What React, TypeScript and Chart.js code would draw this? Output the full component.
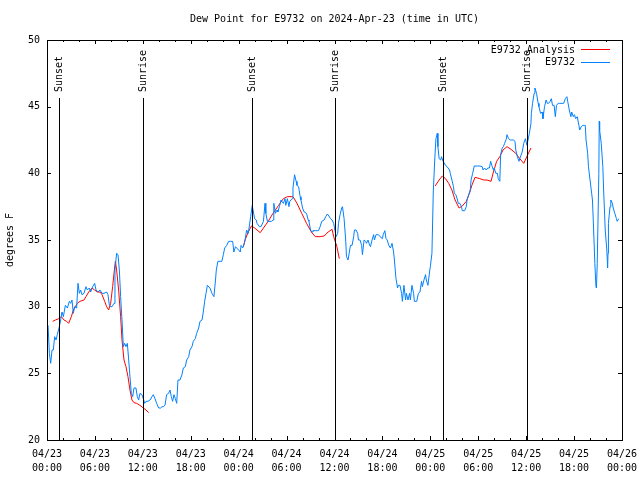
import React, { useEffect, useRef } from "react";
import { Chart, registerables } from "chart.js";

Chart.register(...registerables);

const titleText = "Dew Point for E9732 on 2024-Apr-23 (time in UTC)";
const yAxisTitle = "degrees F";
const seriesNames = ["E9732 Analysis", "E9732"];

const xTickHours = [0, 6, 12, 18, 24, 30, 36, 42, 48, 54, 60, 66, 72];
const xTickDates = ["04/23", "04/23", "04/23", "04/23", "04/24", "04/24", "04/24", "04/24", "04/25", "04/25", "04/25", "04/25", "04/26"];
const xTickTimes = ["00:00", "06:00", "12:00", "18:00", "00:00", "06:00", "12:00", "18:00", "00:00", "06:00", "12:00", "18:00", "00:00"];

const eventHours = [1.55, 12.06, 25.63, 36.08, 49.63, 60.15];
const eventLabels = ["Sunset", "Sunrise", "Sunset", "Sunrise", "Sunset", "Sunrise"];

// Observations (hours since 04/23 00:00 UTC)
const obsHours = [
  0.13, 0.3, 0.46, 0.63, 0.79, 0.96, 1.13, 1.29, 1.54, 1.71, 1.88, 2.05, 2.3, 2.55, 2.8, 2.96, 3.13, 3.3, 3.46, 3.71,
  3.88, 4.05, 4.21, 4.38, 4.63, 4.88, 5.05, 5.3, 5.47, 5.72, 5.97, 6.14, 6.39, 6.64, 6.89, 7.14, 7.47, 7.64, 7.81, 7.97,
  8.14, 8.39, 8.51, 8.72, 8.89, 9.06, 9.22, 9.39, 9.56, 9.72, 9.89, 10.06, 10.23, 10.39, 10.56, 10.73, 10.89, 11.14, 11.31, 11.48,
  11.64, 11.89, 12.06, 12.23, 12.4, 12.65, 12.9, 13.15, 13.31, 13.52, 13.73, 13.98, 14.23, 14.4, 14.57, 14.77, 14.98, 15.23, 15.4, 15.57,
  15.73, 15.9, 16.07, 16.24, 16.4, 16.65, 16.9, 17.07, 17.32, 17.49, 17.74, 17.9, 18.15, 18.32, 18.57, 18.74, 18.99, 19.16, 19.41, 19.57,
  19.74, 19.91, 20.08, 20.4, 20.66, 20.9, 21.1, 21.2, 21.4, 21.7, 21.9, 22.08, 22.25, 22.5, 22.75, 23.0, 23.25, 23.4, 23.6, 23.75,
  24.0, 24.2, 24.3, 24.5, 24.7, 24.8, 25.0, 25.2, 25.3, 25.5, 25.7, 25.8, 26.0, 26.2, 26.3, 26.6, 26.8, 27.1, 27.3, 27.4,
  27.6, 27.8, 28.1, 28.3, 28.4, 28.6, 28.8, 28.9, 29.1, 29.3, 29.4, 29.6, 29.8, 29.9, 30.1, 30.3, 30.4, 30.7, 30.8, 31.0,
  31.2, 31.3, 31.5, 31.7, 31.8, 32.0, 32.2, 32.3, 32.5, 32.7, 32.8, 33.0, 33.2, 33.3, 33.6, 33.9, 34.0, 34.2, 34.4, 34.7,
  34.9, 35.1, 35.3, 35.5, 35.7, 35.9, 36.0, 36.2, 36.4, 36.5, 36.7, 36.9, 37.0, 37.2, 37.4, 37.5, 37.7, 37.9, 38.0, 38.2,
  38.4, 38.5, 38.7, 38.9, 39.0, 39.2, 39.4, 39.5, 39.7, 39.9, 40.0, 40.2, 40.4, 40.5, 40.7, 40.9, 41.0, 41.2, 41.4, 41.5,
  41.7, 42.0, 42.1, 42.3, 42.45, 42.6, 42.8, 43.0, 43.2, 43.4, 43.5, 43.7, 43.9, 44.0, 44.2, 44.4, 44.5, 44.7, 44.9, 45.0,
  45.2, 45.4, 45.5, 45.7, 45.9, 46.0, 46.3, 46.5, 46.7, 46.9, 47.0, 47.2, 47.4, 47.5, 47.7, 47.9, 48.0, 48.2, 48.37, 48.55,
  48.7, 48.87, 48.95, 49.1, 49.3, 49.4, 49.6, 49.9, 50.1, 50.4, 50.5, 50.7, 50.9, 51.0, 51.2, 51.4, 51.5, 51.7, 51.9, 52.0,
  52.3, 52.5, 52.6, 52.8, 53.0, 53.1, 53.3, 53.5, 53.9, 54.2, 54.5, 54.6, 54.8, 55.0, 55.2, 55.4, 55.55, 55.7, 55.9, 56.0,
  56.2, 56.4, 56.5, 56.7, 56.8, 57.0, 57.15, 57.3, 57.5, 57.6, 57.8, 58.0, 58.2, 58.4, 58.6, 58.7, 58.9, 59.1, 59.2, 59.5,
  59.7, 59.9, 60.1, 60.2, 60.4, 60.6, 60.65, 60.8, 61.0, 61.1, 61.3, 61.5, 61.6, 61.8, 62.0, 62.1, 62.3, 62.5, 62.65, 62.8,
  63.0, 63.15, 63.3, 63.5, 63.65, 63.8, 64.0, 64.2, 64.5, 64.7, 64.9, 65.1, 65.2, 65.4, 65.6, 65.7, 65.9, 66.05, 66.2, 66.4,
  66.6, 66.7, 66.9, 67.1, 67.3, 67.4, 67.5, 67.7, 67.8, 68.0, 68.2, 68.3, 68.4, 68.6, 68.74, 68.8, 68.9, 69.1, 69.15, 69.2,
  69.4, 69.6, 69.7, 69.9, 70.1, 70.2, 70.25, 70.3, 70.5, 70.6, 70.8, 70.9, 71.1, 71.3, 71.4, 71.6,
];
const obsValues = [
  28.6, 26.5, 25.75, 26.75, 26.75, 27.75, 27.5, 27.9, 28.5, 29.0, 29.6, 29.25, 30.1, 29.9, 30.4, 30.25, 30.5, 29.5, 30.0, 29.9,
  31.75, 31.0, 31.25, 30.9, 31.0, 31.5, 31.25, 31.4, 31.1, 31.5, 31.75, 31.25, 31.1, 31.25, 31.0, 31.0, 31.1, 30.9, 30.1, 30.0,
  30.0, 30.25, 32.75, 34.0, 33.9, 32.75, 30.75, 29.0, 27.0, 27.25, 27.0, 27.25, 26.0, 24.75, 23.5, 23.25, 23.9, 23.9, 23.25, 23.0,
  23.5, 23.4, 23.1, 22.75, 22.9, 22.9, 23.0, 23.25, 23.4, 23.1, 22.75, 22.4, 22.4, 22.5, 22.5, 22.6, 23.4, 23.5, 23.75, 23.25,
  22.9, 23.4, 23.1, 22.75, 24.5, 24.5, 24.9, 25.4, 25.5, 26.0, 26.25, 26.75, 27.0, 27.4, 27.6, 28.0, 28.4, 28.9, 29.0, 29.6,
  30.4, 31.0, 31.6, 31.4, 31.0, 30.75, 32.0, 32.75, 33.4, 33.4, 33.4, 33.9, 34.4, 34.6, 34.9, 34.9, 34.9, 34.1, 34.5, 34.4,
  34.25, 34.1, 34.6, 34.4, 34.75, 35.0, 35.75, 35.5, 35.9, 36.75, 37.6, 37.25, 36.6, 36.5, 36.25, 36.0, 36.0, 36.4, 37.75, 37.0,
  36.4, 36.4, 36.4, 36.5, 37.75, 37.0, 37.25, 37.1, 37.5, 38.0, 37.9, 37.75, 38.1, 37.6, 38.1, 37.5, 37.9, 38.1, 38.9, 39.9,
  39.4, 39.1, 39.0, 38.25, 38.0, 37.4, 37.1, 37.1, 37.0, 36.5, 36.4, 35.75, 35.6, 35.7, 35.7, 35.7, 35.7, 36.0, 36.4, 36.5,
  36.75, 36.95, 36.8, 36.6, 36.5, 36.25, 35.9, 35.25, 35.5, 36.25, 36.9, 37.4, 37.5, 36.6, 35.0, 33.75, 33.5, 34.25, 34.6, 34.6,
  35.25, 35.75, 35.75, 35.5, 35.0, 35.0, 34.6, 33.9, 35.0, 34.9, 34.75, 35.0, 34.6, 34.5, 35.0, 35.4, 35.0, 35.4, 35.4, 35.4,
  35.25, 35.1, 35.4, 35.7, 35.1, 35.0, 34.6, 34.4, 34.75, 34.1, 33.5, 32.1, 31.4, 31.6, 31.6, 31.0, 30.4, 31.6, 30.5, 31.0,
  30.5, 31.0, 30.5, 31.6, 31.0, 30.4, 30.4, 31.0, 31.1, 31.9, 31.5, 32.0, 32.4, 32.0, 31.6, 32.6, 33.0, 34.0, 38.6, 41.0,
  42.6, 43.0, 42.0, 41.1, 41.0, 41.25, 40.9, 40.6, 40.5, 40.25, 40.0, 39.5, 39.0, 38.5, 38.4, 38.0, 37.75, 37.75, 37.5, 37.2,
  37.2, 37.5, 38.0, 38.4, 38.75, 39.5, 40.0, 40.55, 40.55, 40.55, 40.5, 40.25, 40.4, 40.25, 40.4, 40.4, 40.9, 40.6, 40.25, 40.4,
  40.0, 40.0, 39.6, 39.4, 41.4, 41.9, 42.0, 42.25, 42.55, 42.9, 42.6, 42.5, 42.5, 42.5, 42.4, 41.75, 41.25, 40.9, 41.1, 41.6,
  42.25, 42.6, 42.1, 42.4, 43.0, 43.75, 44.5, 45.25, 46.0, 46.4, 46.0, 45.25, 45.0, 44.5, 44.6, 44.1, 45.0, 45.5, 45.25, 45.25,
  45.4, 45.6, 45.1, 45.1, 44.25, 45.1, 45.25, 45.25, 45.25, 45.25, 45.6, 45.75, 45.4, 44.75, 44.25, 44.6, 44.25, 44.4, 44.1, 44.25,
  43.6, 43.25, 43.5, 43.6, 43.6, 43.6, 42.5, 41.5, 40.5, 39.5, 38.5, 38.0, 36.5, 33.25, 31.5, 31.4, 33.25, 40.0, 43.9, 43.25,
  42.25, 40.5, 38.75, 35.75, 34.25, 32.9, 34.0, 36.25, 37.5, 38.0, 37.75, 37.4, 37.0, 36.6, 36.4, 36.6,
];

// Analysis (null = no analysis for that period)
const analysisHours = [
  0.71, 1.05, 1.46, 1.8, 2.13, 2.46, 2.71, 3.05, 3.3, 3.55, 3.8, 4.13, 4.63, 4.88, 5.22, 5.63, 5.97, 6.3, 6.64, 6.89,
  7.22, 7.47, 7.72, 7.97, 8.22, 8.39, 8.56, 8.72, 8.97, 9.22, 9.39, 9.64, 9.89, 10.14, 10.39, 10.64, 10.89, 11.23, 11.64, 12.06,
  12.4, 12.73, 18.0,
  24.6, 24.8, 25.2, 25.6, 26.0, 26.7, 27.1, 27.7, 28.3, 29.0, 29.6, 30.1, 30.8, 31.3, 31.9, 32.5, 33.1, 33.6, 34.2, 34.7,
  35.2, 35.7, 35.9, 36.3, 36.6, 42.0,
  48.6, 49.1, 49.5, 49.9, 50.3, 50.7, 51.1, 51.6, 52.0, 52.5, 52.9, 53.2, 53.6, 54.2, 54.7, 55.1, 55.6, 55.9, 56.3, 56.7,
  57.1, 57.6, 58.1, 58.7, 59.2, 59.7, 60.2, 60.6,
];
const analysisValues = [
  28.9, 29.0, 29.1, 29.25, 29.0, 28.9, 28.75, 29.25, 29.75, 30.0, 30.25, 30.4, 30.5, 30.75, 31.1, 31.4, 31.25, 31.1, 31.1, 30.9,
  30.4, 30.0, 29.75, 30.25, 31.5, 32.5, 33.4, 32.75, 31.25, 29.25, 27.5, 26.0, 25.5, 24.75, 23.75, 23.0, 22.8, 22.75, 22.6, 22.4,
  22.25, 22.05, null,
  34.5, 35.0, 35.6, 36.05, 35.9, 35.55, 35.9, 36.4, 37.0, 37.6, 38.1, 38.25, 38.25, 37.75, 37.0, 36.25, 35.6, 35.25, 35.25, 35.3,
  35.6, 35.8, 35.25, 34.5, 33.6, null,
  39.05, 39.5, 39.8, 39.6, 39.25, 38.75, 38.0, 37.4, 37.55, 37.9, 38.5, 39.1, 39.7, 39.6, 39.5, 39.5, 39.4, 40.1, 40.9, 41.25,
  41.75, 42.0, 41.8, 41.5, 41.1, 40.75, 41.4, 41.9,
];

const FONT = "'DejaVu Sans Mono', 'Liberation Mono', monospace";
const RED = "#ff0000";
const BLUE = "rgb(0,128,255)";

const gnuplotDecor = {
  id: "gnuplotDecor",
  afterDatasetsDraw(chart: any) {
    const { ctx, chartArea } = chart;
    const xs = chart.scales.x;
    const ys = chart.scales.y;
    const L = Math.round(chartArea.left), R = Math.round(chartArea.right);
    const T = Math.round(chartArea.top), B = Math.round(chartArea.bottom);
    ctx.save();
    ctx.strokeStyle = "#000";
    ctx.lineWidth = 1;
    // frame
    ctx.strokeRect(L + 0.5, T + 0.5, R - L, B - T);
    // x ticks every 2 hours, major every 6
    ctx.beginPath();
    for (let h = 0; h <= 72; h += 2) {
      const px = Math.round(xs.getPixelForValue(h)) + 0.5;
      const len = h % 6 === 0 ? 4 : 2;
      ctx.moveTo(px, B);
      ctx.lineTo(px, B - len);
      ctx.moveTo(px, T);
      ctx.lineTo(px, T + len);
    }
    // y ticks
    for (let v = 20; v <= 50; v += 5) {
      const py = Math.round(ys.getPixelForValue(v)) + 0.5;
      ctx.moveTo(L, py);
      ctx.lineTo(L + 4, py);
      ctx.moveTo(R, py);
      ctx.lineTo(R - 4, py);
    }
    ctx.stroke();
    // title
    ctx.fillStyle = "#000";
    ctx.font = "10px " + FONT;
    ctx.textAlign = "center";
    ctx.textBaseline = "middle";
    ctx.fillText(titleText, (L + R) / 2, 19);
    // sunrise / sunset markers
    eventHours.forEach((h, i) => {
      const px = Math.round(xs.getPixelForValue(h)) + 0.5;
      ctx.beginPath();
      ctx.moveTo(px, 98);
      ctx.lineTo(px, B);
      ctx.stroke();
      ctx.save();
      ctx.translate(px, 92);
      ctx.rotate(-Math.PI / 2);
      ctx.textAlign = "left";
      ctx.textBaseline = "middle";
      ctx.fillText(eventLabels[i], 0, 0);
      ctx.restore();
    });
    // legend (inside, top right)
    const colors = [RED, BLUE];
    seriesNames.forEach((name, i) => {
      const y = 50 + i * 12.5;
      ctx.fillStyle = "#000";
      ctx.textAlign = "right";
      ctx.textBaseline = "middle";
      ctx.fillText(name, 575, y);
      ctx.strokeStyle = colors[i];
      ctx.beginPath();
      ctx.moveTo(581, Math.round(y) - 0.5);
      ctx.lineTo(610, Math.round(y) - 0.5);
      ctx.stroke();
    });
    ctx.restore();
  },
};

export default function App() {
  const canvasRef = useRef<HTMLCanvasElement | null>(null);

  useEffect(() => {
    const canvas = canvasRef.current;
    if (!canvas) return;
    const analysisData = analysisHours.map((h, i) => ({ x: h, y: analysisValues[i] }));
    const obsData = obsHours.map((h, i) => ({ x: h, y: obsValues[i] }));
    const chart = new Chart(canvas, {
      type: "line",
      data: {
        datasets: [
          {
            label: seriesNames[1],
            data: obsData,
            borderColor: BLUE,
            borderWidth: 1,
            pointRadius: 0,
            tension: 0,
            fill: false,
          },
          {
            label: seriesNames[0],
            data: analysisData as any,
            borderColor: RED,
            borderWidth: 1,
            pointRadius: 0,
            tension: 0,
            fill: false,
            spanGaps: false,
          },
        ],
      },
      options: {
        responsive: false,
        animation: false,
        devicePixelRatio: 1,
        layout: { padding: { left: 0, right: 18, top: 40, bottom: 0 } },
        plugins: {
          legend: { display: false },
          tooltip: { enabled: false },
          title: { display: false },
        },
        scales: {
          x: {
            type: "linear",
            min: 0,
            max: 72,
            grid: { display: false, drawTicks: false },
            border: { display: false },
            afterBuildTicks: (scale: any) => {
              scale.ticks = xTickHours.map((v) => ({ value: v }));
            },
            afterFit: (scale: any) => {
              scale.height = 40;
              scale.paddingLeft = 0;
              scale.paddingRight = 0;
            },
            ticks: {
              color: "#000",
              padding: 7,
              maxRotation: 0,
              autoSkip: false,
              font: { family: FONT, size: 10, lineHeight: 1.4 },
              callback: (value: any) => {
                const i = xTickHours.indexOf(Number(value));
                return i >= 0 ? [xTickDates[i], xTickTimes[i]] : "";
              },
            },
          },
          y: {
            min: 20,
            max: 50,
            grid: { display: false, drawTicks: false },
            border: { display: false },
            afterFit: (scale: any) => {
              scale.width = 47;
              scale.paddingTop = 0;
              scale.paddingBottom = 0;
            },
            ticks: {
              stepSize: 5,
              color: "#000",
              padding: 7,
              font: { family: FONT, size: 10 },
            },
            title: {
              display: true,
              text: yAxisTitle,
              color: "#000",
              font: { family: FONT, size: 10 },
              padding: { top: 4, bottom: 4 },
            },
          },
        },
      },
      plugins: [gnuplotDecor],
    });
    return () => chart.destroy();
  }, []);

  return (
    <div style={{ position: "fixed", left: 0, top: 0, width: 640, height: 480, background: "#fff" }}>
      <canvas ref={canvasRef} width={640} height={480} style={{ display: "block" }} />
    </div>
  );
}
